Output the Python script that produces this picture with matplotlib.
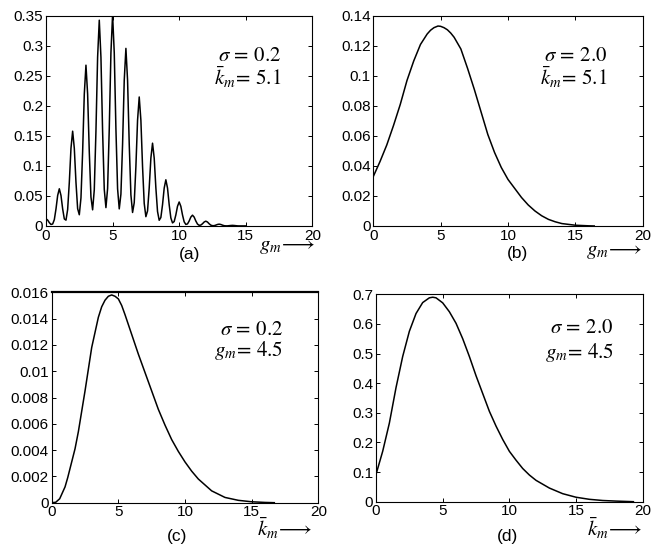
import numpy as np
import matplotlib
matplotlib.use('Agg')
import matplotlib.pyplot as plt

plt.rcParams['font.family'] = 'Liberation Sans'
plt.rcParams['mathtext.fontset'] = 'stix'

# (a) sigma = 0.2, kbar = 5.1 -- sampled every 1/8 of g_m from 0 to 15
a_step = 0.125
a_y = [
    0.0120, 0.0098, 0.0055, 0.0025, 0.0033, 0.0106, 0.0285, 0.0508,
    0.0620, 0.0508, 0.0285, 0.0117, 0.0097, 0.0274, 0.0727, 0.1296,
    0.1580, 0.1296, 0.0727, 0.0289, 0.0187, 0.0468, 0.1233, 0.2198,
    0.2680, 0.2198, 0.1233, 0.0482, 0.0269, 0.0603, 0.1578, 0.2813,
    0.3430, 0.2813, 0.1578, 0.0610, 0.0306, 0.0624, 0.1619, 0.2886,
    0.3520, 0.2886, 0.1619, 0.0620, 0.0285, 0.0530, 0.1362, 0.2427,
    0.2960, 0.2427, 0.1362, 0.0519, 0.0225, 0.0388, 0.0989, 0.1763,
    0.2150, 0.1763, 0.0989, 0.0376, 0.0155, 0.0251, 0.0635, 0.1132,
    0.1380, 0.1132, 0.0635, 0.0241, 0.0095, 0.0141, 0.0354, 0.0631,
    0.0770, 0.0631, 0.0354, 0.0134, 0.0051, 0.0074, 0.0184, 0.0328,
    0.0400, 0.0328, 0.0184, 0.0069, 0.0026, 0.0034, 0.0083, 0.0148,
    0.0180, 0.0148, 0.0083, 0.0032, 0.0011, 0.0015, 0.0037, 0.0066,
    0.0080, 0.0066, 0.0037, 0.0014, 0.0005, 0.0005, 0.0014, 0.0025,
    0.0030, 0.0025, 0.0014, 0.0005, 0.0002, 0.0002, 0.0005, 0.0008,
    0.0010, 0.0008, 0.0005, 0.0002, 0.0001, 0.0001, 0.0001, 0.0001,
    0.0001,
]
a_x = np.arange(len(a_y)) * a_step

# (b) sigma = 2.0, kbar = 5.1
b_x = [0, 0.5, 1, 1.5, 2, 2.5, 3, 3.5, 4, 4.25, 4.5, 4.8, 5, 5.25, 5.5, 5.75,
       6, 6.5, 7, 7.5, 8, 8.5, 9, 9.5, 10, 10.5, 11, 11.5, 12, 12.5, 13, 13.5,
       14, 15, 16, 16.4]
b_y = [0.033, 0.043, 0.054, 0.067, 0.081, 0.097, 0.110, 0.121, 0.128, 0.1305,
       0.1322, 0.1333, 0.1331, 0.1322, 0.1308, 0.1286, 0.1258, 0.118, 0.105,
       0.091, 0.076, 0.061, 0.049, 0.039, 0.031, 0.025, 0.019, 0.014, 0.010,
       0.0068, 0.0044, 0.0028, 0.0016, 0.0005, 0.0001, 0.0]

# (c) sigma = 0.2, g_m = 4.5
c_x = [0, 0.3, 0.6, 1.0, 1.2, 1.5, 1.75, 2.0, 2.5, 3.0, 3.5, 3.75, 4.0, 4.25,
       4.5, 4.75, 5.0, 5.25, 5.5, 6.0, 6.5, 7.0, 7.5, 8.0, 8.5, 9.0, 9.5, 10.0,
       10.5, 11.0, 12.0, 13.0, 14.0, 15.0, 16.0, 16.7]
c_y = [0, 0.00003, 0.0003, 0.0012, 0.0019, 0.0031, 0.0041, 0.0054, 0.0085,
       0.0118, 0.0141, 0.0149, 0.0154, 0.0157, 0.0158, 0.0157, 0.0155, 0.0150,
       0.0143, 0.0128, 0.0113, 0.0099, 0.0085, 0.0071, 0.0059, 0.0048, 0.0039,
       0.0031, 0.0024, 0.0018, 0.0009, 0.0004, 0.00018, 0.00007, 0.00002, 0]

# (d) sigma = 2.0, g_m = 4.5
d_x = [0, 0.5, 1, 1.5, 2, 2.5, 3, 3.5, 4, 4.25, 4.5, 5, 5.5, 6, 6.5, 7, 7.5, 8,
       8.5, 9, 9.5, 10, 10.5, 11, 11.5, 12, 13, 14, 15, 16, 17, 18, 19.3]
d_y = [0.092, 0.17, 0.265, 0.385, 0.49, 0.575, 0.635, 0.672, 0.688, 0.69,
       0.688, 0.671, 0.641, 0.602, 0.55, 0.49, 0.425, 0.365, 0.305, 0.255,
       0.21, 0.17, 0.14, 0.112, 0.09, 0.072, 0.046, 0.027, 0.015, 0.008,
       0.004, 0.002, 0]

x_ticks = [0, 5, 10, 15, 20]
a_yticks = [0, 0.05, 0.1, 0.15, 0.2, 0.25, 0.3, 0.35]
a_ylabels = ['0', '0.05', '0.1', '0.15', '0.2', '0.25', '0.3', '0.35']
b_yticks = [0, 0.02, 0.04, 0.06, 0.08, 0.1, 0.12, 0.14]
b_ylabels = ['0', '0.02', '0.04', '0.06', '0.08', '0.1', '0.12', '0.14']
c_yticks = [0, 0.002, 0.004, 0.006, 0.008, 0.01, 0.012, 0.014, 0.016]
c_ylabels = ['0', '0.002', '0.004', '0.006', '0.008', '0.01', '0.012', '0.014', '0.016']
d_yticks = [0, 0.1, 0.2, 0.3, 0.4, 0.5, 0.6, 0.7]
d_ylabels = ['0', '0.1', '0.2', '0.3', '0.4', '0.5', '0.6', '0.7']

fig = plt.figure(figsize=(6.62, 5.57), dpi=100)

panels = [
    # rect, x, y, ylim, yticks, ylabels, line1, line2, text pos, xlabel, xlabel pos, tag, tag pos
    ([0.0695, 0.5943, 0.4023, 0.377], a_x, a_y, 0.35, a_yticks, a_ylabels,
     r'$\sigma\,=\,0.2$', r'$\bar{k}_m\!=\,5.1$', (0.885, 0.785, 0.671),
     r'$g_m\!\longrightarrow$', (0.80, -0.10), '(a)', (0.54, -0.135)),
    ([0.5639, 0.5943, 0.407, 0.377], b_x, b_y, 0.14, b_yticks, b_ylabels,
     r'$\sigma\,=\,2.0$', r'$\bar{k}_m\!=\,5.1$', (0.870, 0.785, 0.671),
     r'$g_m\!\longrightarrow$', (0.79, -0.12), '(b)', (0.536, -0.133)),
    ([0.0781, 0.0975, 0.4027, 0.3777], c_x, c_y, 0.016, c_yticks, c_ylabels,
     r'$\sigma\,=\,0.2$', r'$g_m\!=\,4.5$', (0.869, 0.797, 0.697),
     r'$\bar{k}_m\!\longrightarrow$', (0.77, -0.122), '(c)', (0.469, -0.162)),
    ([0.568, 0.0993, 0.4029, 0.3724], d_x, d_y, 0.7, d_yticks, d_ylabels,
     r'$\sigma\,=\,2.0$', r'$g_m\!=\,4.5$', (0.891, 0.812, 0.691),
     r'$\bar{k}_m\!\longrightarrow$', (0.79, -0.128), '(d)', (0.494, -0.169)),
]

for (rect, xs, ys, ytop, yt, yl, t1, t2, tpos, xl, xlpos, tag, tagpos) in panels:
    ax = fig.add_axes(rect)
    ax.plot(xs, ys, color='black', linewidth=1.1)
    ax.set_xlim(0, 20)
    ax.set_ylim(0, ytop)
    ax.set_xticks(x_ticks)
    ax.set_xticklabels([str(t) for t in x_ticks])
    ax.set_yticks(yt)
    ax.set_yticklabels(yl)
    ax.tick_params(direction='in', top=True, right=True, length=3, width=0.7,
                   labelsize=11, pad=2)
    for s in ax.spines.values():
        s.set_linewidth(0.8)
    ax.text(tpos[0], tpos[1], t1, transform=ax.transAxes, ha='right',
            va='baseline', fontsize=15)
    ax.text(tpos[0], tpos[2], t2, transform=ax.transAxes, ha='right',
            va='baseline', fontsize=15)
    ax.text(xlpos[0], xlpos[1], xl, transform=ax.transAxes, ha='left',
            va='center', fontsize=15)
    ax.text(tagpos[0], tagpos[1], tag, transform=ax.transAxes, ha='center',
            va='center', fontsize=12.5)
    if tag == '(c)':
        ax.spines['top'].set_linewidth(1.6)

fig.savefig('out.png', dpi=100)
